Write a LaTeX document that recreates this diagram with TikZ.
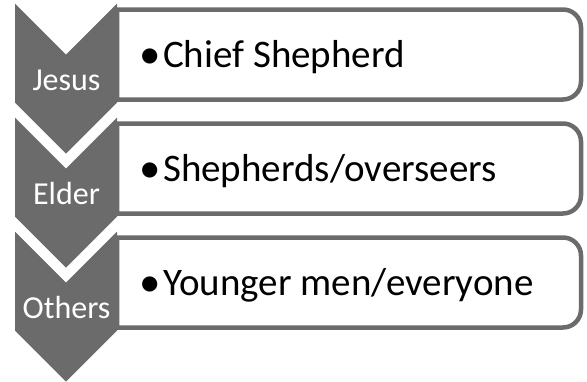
\documentclass[tikz,border=0pt]{standalone}
\usepackage{fontspec}
\setmainfont{Carlito}
\definecolor{cgray}{RGB}{107,107,107}
\newcommand{\bul}{\makebox[24pt][l]{\raisebox{-1.5pt}{\scalebox{1.1}{•}}}}
\begin{document}
\begin{tikzpicture}[x=1pt,y=-1pt,
  chev/.style={fill=cgray,draw=none},
  itembox/.style={draw=cgray,line width=4.5pt,fill=white},
  lbl/.style={text=white,font=\fontsize{32}{38}\selectfont,inner sep=0pt,anchor=base},
  itemtxt/.style={text=black,font=\fontsize{39}{47}\selectfont,inner sep=0pt,anchor=base west}]
\useasboundingbox (0,0) rectangle (587,381);
% boxes
\foreach \Y in {9.5,123.5,237.5}{
  \draw[itembox] (117,\Y) -- (563,\Y) .. controls (572.94,\Y) and (581,\Y+8.06) .. (581,\Y+18)
    -- (581,\Y+72) .. controls (581,\Y+81.94) and (572.94,\Y+90) .. (563,\Y+90) -- (117,\Y+90) -- cycle;
}
% chevrons
\foreach \T in {3.5,117.5,231.5}{
  \fill[chev] (15,\T) -- (66,\T+51) -- (117,\T) -- (117,\T+99) -- (66,\T+150) -- (15,\T+99) -- cycle;
}
\node[lbl] (l1) at (66.5,90) {Jesus};
\node[lbl] (l2) at (66.5,204) {Elder};
\node[lbl] (l3) at (66.5,318) {Others};
\node[itemtxt] (t1) at (139,67) {\bul Chief Shepherd};
\node[itemtxt] (t2) at (139,181) {\bul Shepherds/overseers};
\node[itemtxt] (t3) at (139,295) {\bul Younger men/everyone};
\end{tikzpicture}
\end{document}
